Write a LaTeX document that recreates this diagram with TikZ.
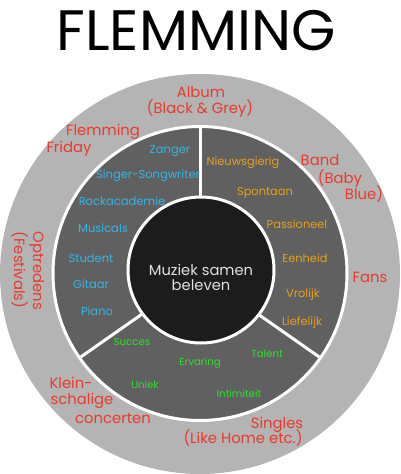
\documentclass[tikz,border=0pt]{standalone}
\usepackage{fontspec}
\setmainfont{Poppins}
\definecolor{ringlight}{HTML}{B4B4B4}
\definecolor{ringdark}{HTML}{606060}
\definecolor{coreblack}{HTML}{1C1C1C}
\definecolor{labelred}{HTML}{EA3A2E}
\definecolor{labelblue}{HTML}{33B5E5}
\definecolor{labelorange}{HTML}{E5A11B}
\definecolor{labelgreen}{HTML}{2EE02E}
\tikzset{
	lbl/.style={inner sep=0pt, anchor=base},
	redlbl/.style={lbl, text=labelred, font=\fontsize{14.8}{17}\selectfont},
	bluelbl/.style={lbl, text=labelblue, font=\fontsize{11.5}{13}\selectfont},
	orangelbl/.style={lbl, text=labelorange, font=\fontsize{11.4}{13}\selectfont},
	greenlbl/.style={lbl, text=labelgreen, font=\fontsize{10.2}{12}\selectfont},
	corelbl/.style={lbl, text=white!88!black, font=\fontsize{14.7}{17}\selectfont},
	spoke/.style={draw=white, line width=3pt}
}

\begin{document}
\begin{tikzpicture}[x=1pt, y=-1pt]
	\useasboundingbox (0,0) rectangle (401,474);
	% Rings and spokes:
	\coordinate (outer) at (200,274);
	\coordinate (mid) at (200,273.5);
	\coordinate (core) at (201,270);
	\fill[ringlight] (outer) circle (200pt);
	\filldraw[fill=ringdark, draw=white, line width=3pt] (mid) circle (147pt);
	\foreach \a in {90,-35,215}
		\draw[spoke] (mid) -- ([shift={(\a:147pt)}]mid);
	\filldraw[fill=coreblack, draw=white, line width=3pt] (core) circle (73pt);
	% Title and centre:
	\node[lbl, font=\fontsize{57}{60}\selectfont] (title) at (196,50) {FLEMMING};
	\node[corelbl] (muziek) at (201,275) {Muziek samen};
	\node[corelbl] (beleven) at (201,290) {beleven};
	% Outer ring:
	\node[redlbl] (album) at (201,97) {Album};
	\node[redlbl] (blackgrey) at (200,113) {(Black \& Grey)};
	\node[redlbl] (flemming) at (103,135) {Flemming};
	\node[redlbl] (friday) at (69,152) {Friday};
	\node[redlbl] (band) at (320,165) {Band};
	\node[redlbl] (baby) at (340,183) {(Baby};
	\node[redlbl] (blue) at (364,199) {Blue)};
	\node[redlbl] (fans) at (370,282) {Fans};
	\node[redlbl] (singles) at (277,428) {Singles};
	\node[redlbl] (likehome) at (243,443) {(Like Home etc.)};
	\node[redlbl] (klein) at (71,388) {Klein-};
	\node[redlbl] (schalige) at (82,404) {schalige};
	\node[redlbl] (concerten) at (113,423) {concerten};
	\node[redlbl, rotate=-90] (optredens) at (33,271) {Optredens};
	\node[redlbl, rotate=-90] (festivals) at (14,270) {(Festivals)};
	% Middle ring, left:
	\node[bluelbl] (zanger) at (170,153) {Zanger};
	\node[bluelbl] (singer) at (148,178) {Singer-Songwriter};
	\node[bluelbl] (rock) at (122,205) {Rockacademie};
	\node[bluelbl] (musicals) at (103,232) {Musicals};
	\node[bluelbl] (student) at (91,262) {Student};
	\node[bluelbl] (gitaar) at (91,288) {Gitaar};
	\node[bluelbl] (piano) at (97,315) {Piano};
	% Middle ring, right:
	\node[orangelbl] (nieuws) at (243,165) {Nieuwsgierig};
	\node[orangelbl] (spontaan) at (265,195) {Spontaan};
	\node[orangelbl] (passie) at (297,228) {Passioneel};
	\node[orangelbl] (eenheid) at (305,262) {Eenheid};
	\node[orangelbl] (vrolijk) at (303,297) {Vrolijk};
	\node[orangelbl] (liefelijk) at (302,325) {Liefelijk};
	% Middle ring, bottom:
	\node[greenlbl] (succes) at (132,345) {Succes};
	\node[greenlbl] (uniek) at (145,388) {Uniek};
	\node[greenlbl] (ervaring) at (200,365) {Ervaring};
	\node[greenlbl] (talent) at (267,357) {Talent};
	\node[greenlbl] (intimiteit) at (239,397) {Intimiteit};
\end{tikzpicture}
\end{document}
